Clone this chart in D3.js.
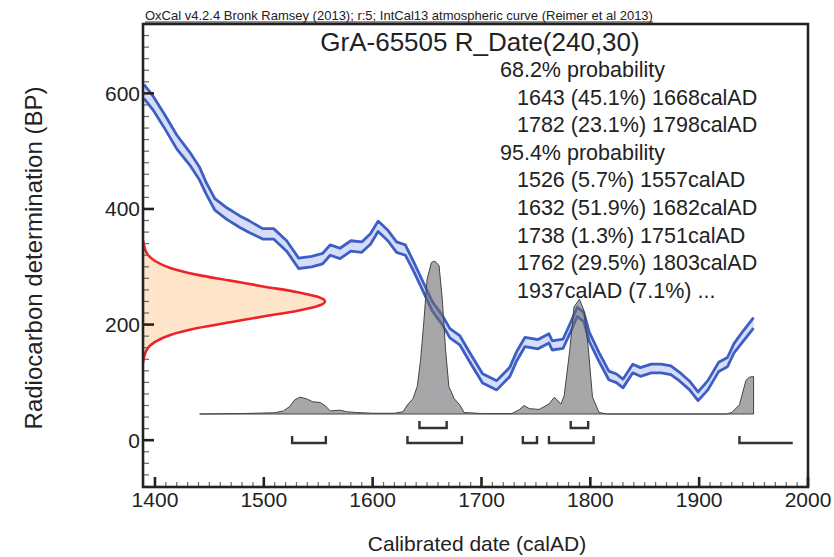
<!DOCTYPE html>
<html>
<head>
<meta charset="utf-8">
<script src="https://cdnjs.cloudflare.com/ajax/libs/d3/7.8.5/d3.min.js"></script>
<style>
body { margin: 0; background: #fff; }
text { font-family: "Liberation Sans", Arial, Helvetica, sans-serif; fill: #222; }
</style>
</head>
<body>
<script>
// Calibration curve (IntCal13): year, BP, half width
var calYears = [1390, 1398, 1409, 1420, 1432, 1441, 1447, 1455, 1466, 1478, 1487, 1499, 1509, 1521, 1532, 1544,
    1554, 1561, 1570, 1580, 1590, 1598, 1605, 1614, 1622, 1630, 1637, 1646, 1655, 1664, 1671, 1680,
    1689, 1701, 1714, 1726, 1732, 1740, 1752, 1762, 1765, 1775, 1782, 1788, 1794, 1799, 1808, 1817,
    1824, 1830, 1839, 1846, 1856, 1865, 1874, 1882, 1891, 1899, 1908, 1918, 1926, 1932, 1940, 1950];
var calBP = [603, 584, 551, 516, 487, 461, 436, 408, 392, 378, 369, 357, 357, 336, 306, 309,
    314, 329, 323, 336, 334, 348, 370, 354, 334, 329, 303, 267, 231, 208, 185, 173,
    144, 107, 95, 118, 144, 170, 166, 176, 164, 167, 196, 222, 213, 179, 144, 112,
    107, 98, 124, 118, 124, 124, 121, 110, 95, 76, 95, 127, 135, 159, 179, 203];
var calSigma = [12, 12, 12, 12, 11, 11, 10, 10, 10, 10, 10, 9, 9, 9, 9, 9,
    9, 9, 9, 9, 9, 9, 9, 9, 9, 9, 8, 8, 8, 8, 8, 8,
    8, 8, 8, 8, 8, 8, 8, 8, 8, 8, 8, 8, 8, 8, 7.5, 7.5,
    7.5, 7.5, 7.5, 7.5, 7.5, 7.5, 7.5, 7.5, 7.5, 7.5, 8, 8, 8, 8, 9, 9];

// Calibrated (posterior) distribution, relative to the highest peak
var postYears = [1441, 1480, 1510, 1518, 1524, 1528, 1533, 1539, 1545, 1552, 1557, 1561, 1570, 1576, 1585, 1600,
    1620, 1628, 1632, 1637, 1641, 1644, 1647, 1650, 1654, 1657, 1661, 1664, 1667, 1670, 1675, 1680,
    1684, 1700, 1728, 1735, 1739, 1744, 1753, 1762, 1767, 1773, 1776, 1781, 1785, 1790, 1794, 1798,
    1802, 1808, 1815, 1925, 1930, 1937, 1943, 1946, 1950];
var postProb = [0, 0.003, 0.008, 0.02, 0.05, 0.09, 0.11, 0.1, 0.08, 0.075, 0.05, 0.02, 0.025, 0.015, 0.01, 0.005,
    0.005, 0.015, 0.06, 0.1, 0.18, 0.35, 0.6, 0.88, 0.99, 1.0, 0.97, 0.75, 0.42, 0.18, 0.1, 0.06,
    0.01, 0.003, 0.003, 0.03, 0.055, 0.035, 0.03, 0.065, 0.11, 0.065, 0.12, 0.41, 0.7, 0.75, 0.68, 0.44,
    0.11, 0.01, 0, 0, 0.01, 0.06, 0.22, 0.24, 0.245];

// Radiocarbon date R_Date(240,30) on the y axis
var dateBP = [346, 324, 310, 298, 286, 276, 266, 256, 248, 240, 232, 224, 214, 204, 194, 182, 170, 156, 134];
var dateDens = [0, 0.02, 0.066, 0.15, 0.3, 0.48, 0.66, 0.85, 0.96, 1, 0.96, 0.85, 0.66, 0.48, 0.3, 0.15, 0.066, 0.02, 0];

// ranges
var range68 = [[1643, 1668], [1782, 1798]];
var range95 = [[1526, 1557], [1632, 1682], [1738, 1751], [1762, 1803], [1937, 1986]];

var probLines = ["68.2% probability", "1643 (45.1%) 1668calAD", "1782 (23.1%) 1798calAD",
    "95.4% probability", "1526 (5.7%) 1557calAD", "1632 (51.9%) 1682calAD", "1738 (1.3%) 1751calAD",
    "1762 (29.5%) 1803calAD", "1937calAD (7.1%) ..."];

var xTicks = [1400, 1500, 1600, 1700, 1800, 1900, 2000];
var yTicks = [0, 200, 400, 600];

var WIDTH = 834;
var HEIGHT = 557;
var margin = {left: 143, right: 26, top: 24, bottom: 70};

var svg = d3.select("body").append("svg").attr("width", WIDTH).attr("height", HEIGHT);

var x = d3.scaleLinear().domain([1389, 2000]).range([margin.left, WIDTH - margin.right]);
var y = d3.scaleLinear().domain([-81, 720]).range([HEIGHT - margin.bottom, margin.top]);
// widths of the distributions in pixels
var dens = d3.scaleLinear().domain([0, 1]).range([x(1389), x(1389) + 182]);
var prob = d3.scaleLinear().domain([0, 1]).range([414, 261]);

svg.append("clipPath").attr("id", "plot").append("rect")
    .attr("x", x.range()[0]).attr("y", y.range()[1])
    .attr("width", x.range()[1] - x.range()[0]).attr("height", y.range()[0] - y.range()[1]);

var g = svg.append("g").attr("clip-path", "url(#plot)");

// calibration curve band
var cal = calYears.map(function(d, i) { return {year: d, bp: calBP[i], s: calSigma[i]}; });

g.append("path").datum(cal)
    .attr("d", d3.area()
        .x(function(d) { return x(d.year); })
        .y0(function(d) { return y(d.bp - d.s); })
        .y1(function(d) { return y(d.bp + d.s); }))
    .attr("fill", "#d6ddf8");

[1, -1].forEach(function(sign) {
    g.append("path").datum(cal)
        .attr("d", d3.line()
            .x(function(d) { return x(d.year); })
            .y(function(d) { return y(d.bp + sign * d.s); }))
        .attr("fill", "none")
        .attr("stroke", "#3d5ec3")
        .attr("stroke-width", 2.8)
        .attr("stroke-linejoin", "round");
});

// R_Date distribution
var rdate = dateBP.map(function(d, i) { return {bp: d, w: dateDens[i]}; });
g.append("path").datum(rdate)
    .attr("d", d3.area().curve(d3.curveMonotoneY)
        .y(function(d) { return y(d.bp); })
        .x0(dens(0))
        .x1(function(d) { return dens(d.w); }))
    .attr("fill", "#fee5c9");
g.append("path").datum(rdate)
    .attr("d", d3.line().curve(d3.curveMonotoneY)
        .y(function(d) { return y(d.bp); })
        .x(function(d) { return dens(d.w); }))
    .attr("fill", "none")
    .attr("stroke", "#ee2229")
    .attr("stroke-width", 2.6);

// posterior
var post = postYears.map(function(d, i) { return {year: d, p: postProb[i]}; });
g.append("path").datum(post)
    .attr("d", d3.area()
        .x(function(d) { return x(d.year); })
        .y0(prob(0))
        .y1(function(d) { return prob(d.p); }))
    .attr("fill", "#6c6c70")
    .attr("fill-opacity", 0.6)
    .attr("stroke", "#444")
    .attr("stroke-width", 1);

// range brackets
function brackets(ranges, yLine, openEnd) {
    ranges.forEach(function(r, i) {
        var x0 = x(r[0]), x1 = x(r[1]);
        var last = openEnd && i == ranges.length - 1;
        var pts = [[x0, yLine - 7], [x0, yLine], [x1, yLine]];
        if (!last) pts.push([x1, yLine - 7]);
        svg.append("path")
            .attr("d", d3.line()(pts))
            .attr("fill", "none")
            .attr("stroke", "#333")
            .attr("stroke-width", 2.4);
    });
}
brackets(range68, 428, false);
brackets(range95, 443, true);

// minor ticks
var xMinor = d3.range(1400, 2001, 10).filter(function(d) { return d % 100 != 0; });
var yMinor = d3.range(-80, 721, 20).filter(function(d) { return d % 200 != 0; });

svg.selectAll(".xminor").data(xMinor).enter().append("line")
    .attr("x1", function(d) { return x(d); }).attr("x2", function(d) { return x(d); })
    .attr("y1", y.range()[0]).attr("y2", y.range()[0] - 5)
    .attr("stroke", "#666").attr("stroke-width", 1.2);
svg.selectAll(".yminor").data(yMinor).enter().append("line")
    .attr("x1", x.range()[0]).attr("x2", x.range()[0] + 6)
    .attr("y1", function(d) { return y(d); }).attr("y2", function(d) { return y(d); })
    .attr("stroke", "#666").attr("stroke-width", 1.2);

// major ticks
svg.selectAll(".xmajor").data(xTicks).enter().append("line")
    .attr("x1", function(d) { return x(d); }).attr("x2", function(d) { return x(d); })
    .attr("y1", y.range()[0]).attr("y2", y.range()[0] - 10)
    .attr("stroke", "#222").attr("stroke-width", 2.6);
svg.selectAll(".ymajor").data(yTicks).enter().append("line")
    .attr("x1", x.range()[0]).attr("x2", x.range()[0] + 11)
    .attr("y1", function(d) { return y(d); }).attr("y2", function(d) { return y(d); })
    .attr("stroke", "#222").attr("stroke-width", 2.6);

// frame
svg.append("rect")
    .attr("x", x.range()[0]).attr("y", y.range()[1])
    .attr("width", x.range()[1] - x.range()[0]).attr("height", y.range()[0] - y.range()[1])
    .attr("fill", "none").attr("stroke", "#222").attr("stroke-width", 2.6);

// tick labels
svg.selectAll(".xlab").data(xTicks).enter().append("text")
    .attr("x", function(d) { return x(d); })
    .attr("y", 507)
    .attr("text-anchor", "middle")
    .attr("font-size", "21px")
    .text(function(d) { return d; });
svg.selectAll(".ylab").data(yTicks).enter().append("text")
    .attr("x", x.range()[0] - 3)
    .attr("y", function(d) { return y(d); })
    .attr("dy", "0.35em")
    .attr("text-anchor", "end")
    .attr("font-size", "21px")
    .text(function(d) { return d; });

// axis titles
svg.append("text").text("Calibrated date (calAD)")
    .attr("x", 477).attr("y", 551)
    .attr("text-anchor", "middle").attr("font-size", "21px");
svg.append("text").text("Radiocarbon determination (BP)")
    .attr("transform", "rotate(-90)")
    .attr("x", -258).attr("y", 42)
    .attr("text-anchor", "middle").attr("font-size", "24px");

// header
var head = svg.append("text").text("OxCal v4.2.4 Bronk Ramsey (2013); r:5; IntCal13 atmospheric curve (Reimer et al 2013)")
    .attr("x", 145).attr("y", 20)
    .attr("font-size", "13px");
var hl = head.node().getComputedTextLength();
svg.append("line")
    .attr("x1", 145).attr("x2", 145 + hl)
    .attr("y1", 22).attr("y2", 22)
    .attr("stroke", "#222").attr("stroke-width", 1);

svg.append("text").text("GrA-65505 R_Date(240,30)")
    .attr("x", 480).attr("y", 51)
    .attr("text-anchor", "middle").attr("font-size", "26px");

// probability listing
svg.selectAll(".prob").data(probLines).enter().append("text")
    .attr("x", function(d) { return d.indexOf("probability") > 0 ? 500 : 517; })
    .attr("y", function(d, i) { return 77 + i * 27.6; })
    .attr("font-size", "21.5px")
    .text(function(d) { return d; });
</script>
</body>
</html>
